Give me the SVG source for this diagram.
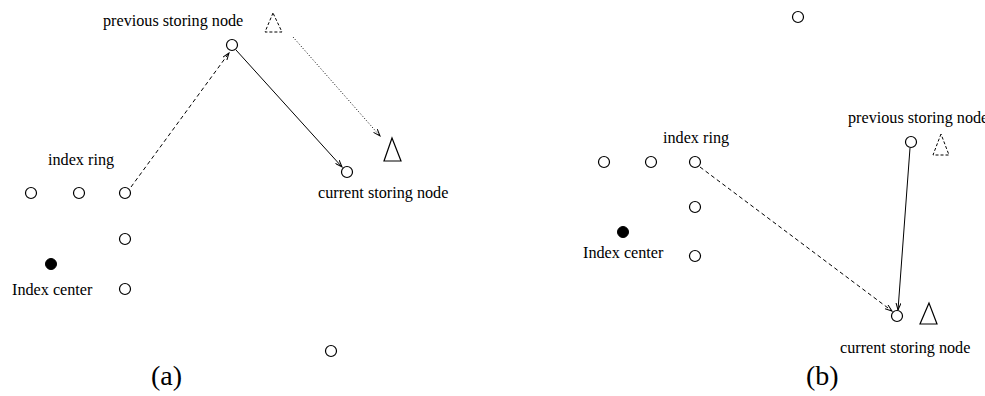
<svg xmlns="http://www.w3.org/2000/svg" width="985" height="396" viewBox="0 0 985 396">
  <style>
    .node { fill: #fff; stroke: #000; stroke-width: 1.2; }
    .center { fill: #000; stroke: #000; stroke-width: 1; }
    .lbl { font-family: "Liberation Serif", "DejaVu Serif", serif; font-size: 16.2px; fill: #000; }
    .cap { font-family: "Liberation Serif", "DejaVu Serif", serif; font-size: 28px; fill: #000; }
    .tri { fill: none; stroke: #000; stroke-width: 1.2; }
    .tri-old { fill: none; stroke: #000; stroke-width: 1; stroke-dasharray: 3 2; }
    .solid { fill: none; stroke: #000; stroke-width: 1; marker-end: url(#arr); }
    .dash { fill: none; stroke: #000; stroke-width: 1; stroke-dasharray: 4 3; marker-end: url(#arr); }
    .dot { fill: none; stroke: #000; stroke-width: 1; stroke-dasharray: 1 2; marker-end: url(#arr); }
  </style>
  <defs>
    <marker id="arr" markerWidth="8" markerHeight="6" refX="7" refY="3" orient="auto" markerUnits="userSpaceOnUse">
      <path d="M0,0.5 L7,3 L0,5.5" fill="none" stroke="#000" stroke-width="1"/>
    </marker>
  </defs>

  <!-- panel (a) -->
  <g id="connectors-a">
    <line class="dash" x1="131" y1="187" x2="229" y2="53"/>
    <line class="solid" x1="236" y1="50" x2="342" y2="167"/>
    <line class="dot" x1="293" y1="37" x2="380" y2="136"/>
  </g>
  <g id="a-ring1"><circle class="node" cx="31" cy="193" r="5.5"/></g>
  <g id="a-ring2"><circle class="node" cx="79" cy="193" r="5.5"/></g>
  <g id="a-ring3"><circle class="node" cx="125" cy="193" r="5.5"/></g>
  <g id="a-ring4"><circle class="node" cx="125" cy="239" r="5.5"/></g>
  <g id="a-ring5"><circle class="node" cx="125" cy="289" r="5.5"/></g>
  <g id="a-prev"><circle class="node" cx="232" cy="45" r="5.5"/></g>
  <g id="a-curr"><circle class="node" cx="347" cy="172" r="5.5"/></g>
  <g id="a-far"><circle class="node" cx="331" cy="351" r="5.5"/></g>
  <g id="a-center"><circle class="center" cx="51" cy="264" r="5.5"/></g>
  <g id="a-item-old"><polygon class="tri-old" points="273,13 265,32 282,32"/></g>
  <g id="a-item"><polygon class="tri" points="392,138 384,161 401,161"/></g>
  <text class="lbl" x="103" y="26">previous storing node</text>
  <text class="lbl" x="48" y="165">index ring</text>
  <text class="lbl" x="12" y="295">Index center</text>
  <text class="lbl" x="318" y="198">current storing node</text>
  <text class="cap" x="151" y="385">(a)</text>

  <!-- panel (b) -->
  <g id="connectors-b">
    <line class="dash" x1="700" y1="167" x2="892" y2="311"/>
    <line class="solid" x1="910" y1="148" x2="898" y2="310"/>
  </g>
  <g id="b-top"><circle class="node" cx="798" cy="17" r="5.5"/></g>
  <g id="b-ring1"><circle class="node" cx="604" cy="162" r="5.5"/></g>
  <g id="b-ring2"><circle class="node" cx="651" cy="162" r="5.5"/></g>
  <g id="b-ring3"><circle class="node" cx="695" cy="162" r="5.5"/></g>
  <g id="b-ring4"><circle class="node" cx="695" cy="207" r="5.5"/></g>
  <g id="b-ring5"><circle class="node" cx="695" cy="256" r="5.5"/></g>
  <g id="b-prev"><circle class="node" cx="911" cy="142" r="5.5"/></g>
  <g id="b-curr"><circle class="node" cx="897" cy="316" r="5.5"/></g>
  <g id="b-center"><circle class="center" cx="623" cy="232" r="5.5"/></g>
  <g id="b-item-old"><polygon class="tri-old" points="941,134 933,155 949,155"/></g>
  <g id="b-item"><polygon class="tri" points="929,303 920,324 937,324"/></g>
  <text class="lbl" x="663" y="143">index ring</text>
  <text class="lbl" x="848" y="123">previous storing node</text>
  <text class="lbl" x="583" y="258">Index center</text>
  <text class="lbl" x="840" y="353">current storing node</text>
  <text class="cap" x="806" y="385">(b)</text>
</svg>
